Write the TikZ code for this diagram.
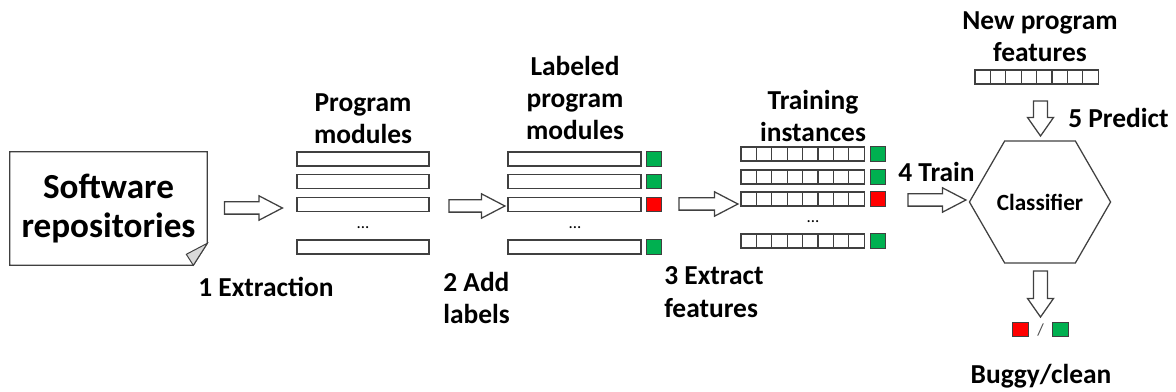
\documentclass[tikz,border=0pt]{standalone}
\usepackage{fontspec}
\setmainfont{Carlito}
\usetikzlibrary{shapes.geometric, shapes.arrows}
\definecolor{okgreen}{RGB}{0,176,80}
\definecolor{bugred}{RGB}{255,0,0}
\definecolor{edge}{RGB}{64,64,64}
\tikzstyle{caption} = [align=center, inner sep=0pt, font=\fontsize{19.5}{23}\selectfont\bfseries]
\tikzstyle{stepname} = [align=left, anchor=west, inner sep=0pt, font=\fontsize{19.5}{23}\selectfont\bfseries]
\tikzstyle{module} = [rectangle, draw=edge, line width=0.9pt, minimum width=3.3cm, minimum height=0.35cm, inner sep=0pt]
\tikzstyle{cell} = [rectangle, draw=edge, line width=0.9pt, minimum width=0.385cm, minimum height=0.35cm, inner sep=0pt]
\tikzstyle{tag} = [rectangle, draw=edge, line width=0.7pt, minimum width=0.39cm, minimum height=0.37cm, inner sep=0pt]
\tikzstyle{dots} = [inner sep=0pt, font=\fontsize{12}{14}\selectfont]
\tikzstyle{blockarrow} = [single arrow, draw=edge, fill=white, line width=0.9pt, inner xsep=0pt, inner ysep=0.1375cm, single arrow head extend=0.15cm, single arrow tip angle=55]

\begin{document}
\begin{tikzpicture}[x=0.025cm, y=-0.025cm]
\useasboundingbox (0,0) rectangle (1176,392);

% software repositories
\node (repo) [minimum width=4.925cm, minimum height=2.825cm, inner sep=0pt, align=center, font=\fontsize{25}{27.5}\selectfont\bfseries] at (108.5,208.5) {Software\\repositories};
\draw [edge, line width=0.9pt] (repo.north west) -- (repo.north east) -- ([yshift=0.55cm]repo.south east) -- ([xshift=-0.35cm]repo.south east) -- (repo.south west) -- cycle;
\draw [edge, fill=black!15, line width=0.7pt] ([yshift=0.55cm]repo.south east) -- ([xshift=-0.35cm]repo.south east) -- ([xshift=-0.525cm, yshift=0.275cm]repo.south east) -- cycle;
\node (a1) [blockarrow, minimum height=1.45cm] at (247.5,208) {};
\node (s1) [caption] at (266,287) {1 Extraction};

% program modules
\node (pmtitle) [caption] at (363,119) {Program\\modules};
\foreach \r/\y in {1/159, 2/181.5, 3/204.5, 4/247}
  \node (pm\r) [module] at (363,\y) {};
\node (pmdots) [dots] at (363,228) {...};
\node (a2) [blockarrow, minimum height=1.4cm] at (471,206) {};
\node (s2) [stepname] at (443,298) {2 Add\\labels};

% labeled program modules
\node (lmtitle) [caption] at (575,98) {Labeled\\program\\modules};
\foreach \r/\y/\c in {1/159/okgreen, 2/181.5/okgreen, 3/204.5/bugred, 4/247/okgreen} {
  \node (lm\r) [module, minimum width=3.325cm] at (574.5,\y) {};
  \node (lab\r) [tag, fill=\c] at (654,\y) {};
}
\node (lmdots) [dots] at (575,228) {...};
\node (a3) [blockarrow, minimum height=1.475cm] at (702.5,204) {};
\node (s3) [stepname] at (664,292) {3 Extract\\features};

% training instances
\node (tititle) [caption] at (813,116) {Training\\instances};
\foreach \r/\y/\c in {1/154/okgreen, 2/177/okgreen, 3/199/bugred, 4/241/okgreen} {
  \foreach \k in {1,...,8}
    \node (ti\r c\k) [cell] at ({741+15.4*(\k-0.5)},\y) {};
  \node (tlab\r) [tag, fill=\c] at (878,\y) {};
}
\node (tidots) [dots] at (813,222) {...};
\node (a4) [blockarrow, minimum height=1.45cm] at (931,200) {};
\node (s4) [stepname] at (898,172) {4 Train};

% classifier
\node (clf) [regular polygon, regular polygon sides=6, draw=edge, line width=0.9pt, minimum size=3.15cm, inner sep=0pt, font=\fontsize{16.5}{18}\selectfont\bfseries] at (1040,202) {Classifier};

% new program
\node (nptitle) [caption] at (1040,37) {New program\\features};
\foreach \k in {1,...,8}
  \node (np\k) [cell] at ({975+15.4*(\k-0.5)},77) {};
\node (a5) [blockarrow, rotate=-90, inner ysep=0.16cm, single arrow head extend=0.15cm, single arrow tip angle=70, minimum height=0.875cm] at (1040.5,113.5) {};
\node (s5) [stepname] at (1068,118) {5 Predict};

% prediction
\node (a6) [blockarrow, rotate=-90, inner ysep=0.16cm, single arrow head extend=0.15cm, single arrow tip angle=70, minimum height=1.15cm] at (1040.5,289) {};
\node (outbug) [tag, fill=bugred] at (1020.5,329.5) {};
\node (slash) [dots, text=black!70] at (1040.5,330) {/};
\node (outok) [tag, fill=okgreen] at (1060.5,329.5) {};
\node (outtitle) [caption] at (1041,376) {Buggy/clean};
\end{tikzpicture}
\end{document}
